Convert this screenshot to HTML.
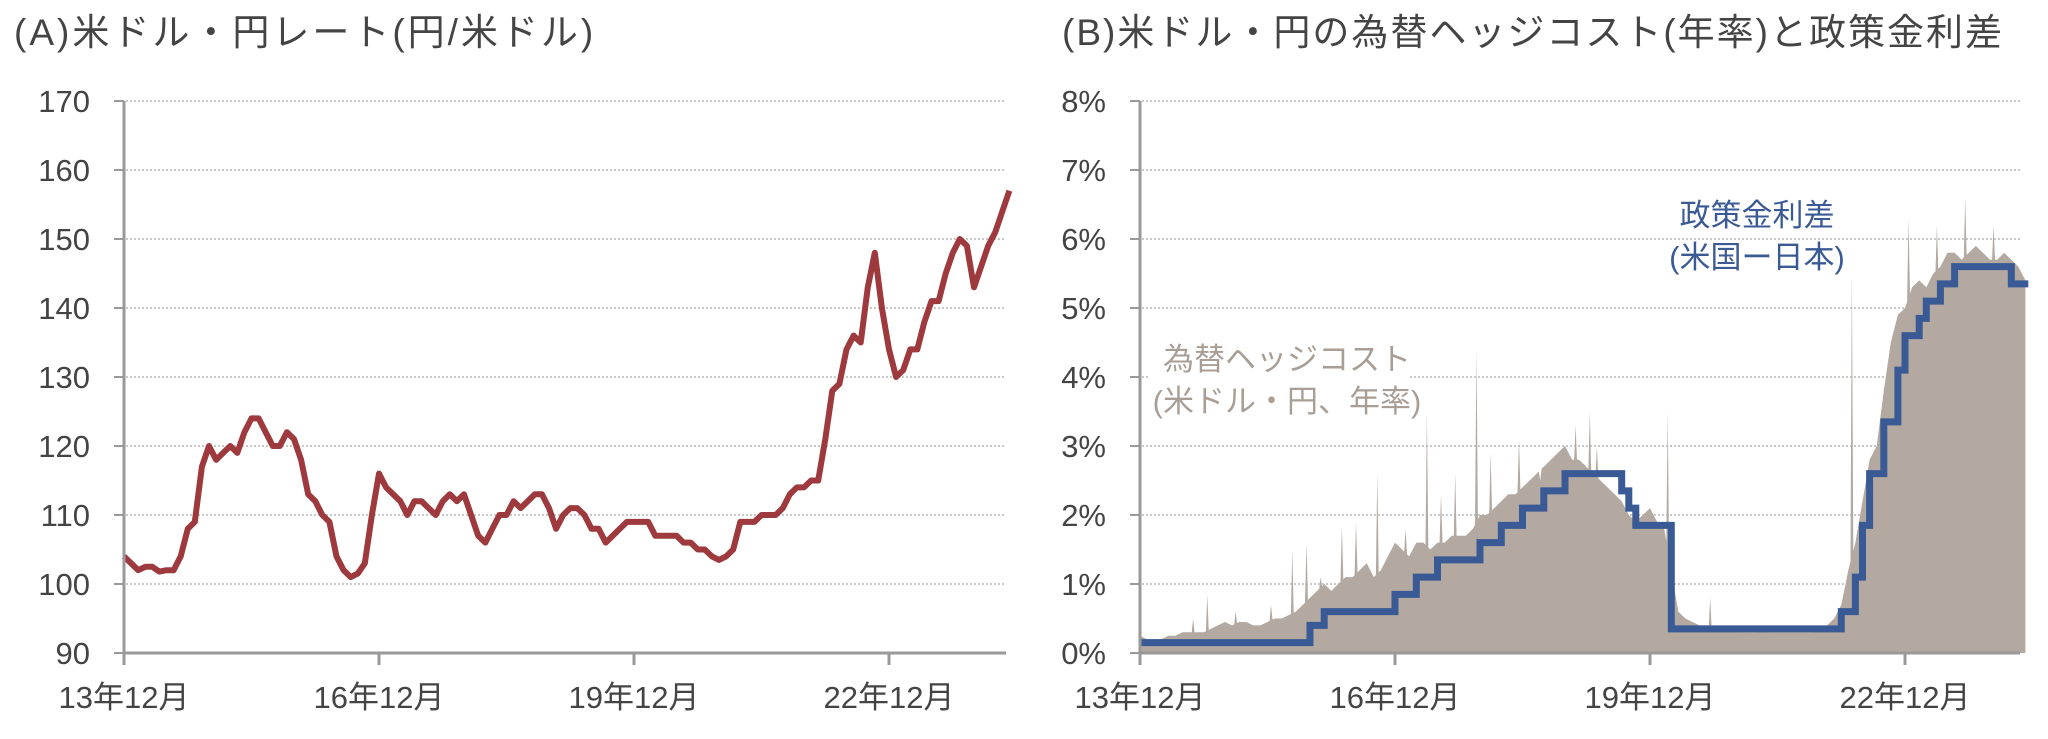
<!DOCTYPE html>
<html><head><meta charset="utf-8"><style>
body{margin:0;background:#fff;}
svg{display:block;font-family:"Liberation Sans","Noto Sans CJK JP",sans-serif;}
</style></head><body>
<svg id="c" width="2048" height="739" viewBox="0 0 2048 739">
<text x="14" y="45" font-size="37" letter-spacing="3" fill="#444">(A)米ドル・円レート(円/米ドル)</text>
<text x="1062" y="45" font-size="37" letter-spacing="2" fill="#444">(B)米ドル・円の為替ヘッジコスト(年率)と政策金利差</text>
<g id="L"></g>
<g id="R"></g>
</svg>
<script>
const NS="http://www.w3.org/2000/svg";
const xTickLabels=["13年12月","16年12月","19年12月","22年12月"];
const xTickMonths=[0,36,72,108];
const leftYTicks=[90,100,110,120,130,140,150,160,170];
const rightYTicks=[0,1,2,3,4,5,6,7,8];
const usdjpy=[104,
103,102,102.5,102.5,101.8,102,102,104,108,109,117,120,
118,119,120,119,122,124,124,122,120,120,122,121,
118,113,112,110,109,104,102,101,101.5,103,110,116,
114,113,112,110,112,112,111,110,112,113,112,113,
110,107,106,108,110,110,112,111,112,113,113,111,
108,110,111,111,110,108,108,106,107,108,109,109,
109,109,107,107,107,107,106,106,105,105,104,103.5,
104,105,109,109,109,110,110,110,111,113,114,114,
115,115,121,128,129,134,136,135,143,148,140,134,
130,131,134,134,138,141,141,145,148,150,149,143,
146,149,151,154,157];
const hedgeCost=[0.25,
0.2,0.2,0.2,0.25,0.25,0.3,0.3,0.3,0.3,0.35,0.4,0.45,
0.4,0.45,0.45,0.4,0.4,0.45,0.5,0.5,0.55,0.6,0.7,0.8,
0.9,1.0,0.9,1.0,1.1,1.1,1.2,1.3,1.1,1.2,1.4,1.6,
1.5,1.4,1.6,1.6,1.5,1.6,1.6,1.7,1.7,1.7,1.8,2.0,
2.0,2.1,2.2,2.3,2.3,2.4,2.5,2.6,2.7,2.8,2.9,3.0,
2.8,2.8,2.7,2.6,2.5,2.4,2.3,2.2,2.0,1.9,2.0,2.1,
1.9,1.8,1.2,0.6,0.5,0.45,0.4,0.4,0.35,0.35,0.35,0.35,
0.3,0.3,0.3,0.35,0.3,0.3,0.3,0.3,0.3,0.3,0.3,0.35,
0.4,0.5,0.7,1.2,1.6,2.2,2.8,3.0,3.8,4.5,4.9,5.0,
5.3,5.4,5.3,5.5,5.6,5.8,5.8,5.7,5.8,5.9,5.8,5.7,
5.7,5.8,5.7,5.6,5.4];
const spikeMonths=[7.5,9.5,13.5,18.5,21.5,23.5,25.5,28.5,30.5,33.5,37.5,40.5,42.5,44.5,47.5,49.5,53.5,56.5,61.5,63.5,64.5,74.5,80.5,100.5,108.5,112.5,116.5,120.5];
const spikeValues=[0.5,0.85,0.6,0.7,1.5,1.6,1.1,1.85,1.9,2.6,1.8,3.5,2.3,2.6,4.4,2.9,3.1,2.5,3.3,3.5,3.0,3.5,0.8,5.6,6.3,6.2,6.6,6.2];
const stepMonths=[0,24,26,36,39,42,48,51,54,57,60,68,69,70,75,99,101,102,103,105,107,108,110,111,113,115,123];
const stepValues=[0.15,0.4,0.6,0.85,1.1,1.35,1.6,1.85,2.1,2.35,2.6,2.35,2.1,1.85,0.35,0.6,1.1,1.85,2.6,3.35,4.1,4.6,4.85,5.1,5.35,5.6,5.35];
const lastMonth=125.4;

const TOP=101,BOT=653,PXM=255/36;
function mk(tag,attrs,parent,name,text){const e=document.createElementNS(NS,tag);for(const k in attrs)e.setAttribute(k,attrs[k]);


if(text!==undefined)e.textContent=text;parent.appendChild(e);return e;}
function axes(g,x0,x1,ticks,yFn,fmt,labelRight){
  ticks.forEach((t,i)=>{const y=yFn(t);
    if(i>0)mk('line',{x1:x0+2,x2:x1,y1:y,y2:y,stroke:'#c8c8c8','stroke-width':2,'stroke-dasharray':'2 2'},g,'gridline');
    mk('line',{x1:x0-10,x2:x0,y1:y,y2:y,stroke:'#999','stroke-width':2},g,'y-tick');
    mk('text',{x:labelRight,y:y+11,'text-anchor':'end','font-size':31,fill:'#444'},g,'y-tick-label',fmt(t));
  });
}
function xaxis(g,x0,x1,xFn){
  mk('line',{x1:x0,x2:x1,y1:BOT,y2:BOT,stroke:'#999','stroke-width':3},g,'x-axis');
  mk('line',{x1:x0,x2:x0,y1:TOP,y2:BOT+8,stroke:'#999','stroke-width':3},g,'y-axis');
  xTickMonths.forEach((m,i)=>{const x=xFn(m);
    mk('line',{x1:x,x2:x,y1:BOT,y2:BOT+12,stroke:'#999','stroke-width':3},g,'x-tick');
    mk('text',{x:x,y:708,'text-anchor':'middle','font-size':31,fill:'#444'},g,'x-tick-label',xTickLabels[i]);
  });
}
// Left chart
const L=document.getElementById('L');
const xL=m=>124+m*PXM, yL=v=>BOT-(v-90)*(BOT-TOP)/80;
axes(L,124,1006,leftYTicks,yL,t=>String(t),90);
const lp=usdjpy.map((v,i)=>xL(i).toFixed(1)+','+yL(v).toFixed(1)).join(' ');
mk('polyline',{points:lp,fill:'none',stroke:'#9e3a3e','stroke-width':6,'stroke-linejoin':'round'},L,'usdjpy-line');
xaxis(L,124,1006,xL);
// Right chart
const R=document.getElementById('R');
const xR=m=>1140+m*PXM, yR=v=>BOT-v*(BOT-TOP)/8;
axes(R,1140,2020,rightYTicks,yR,t=>t+'%',1106);
function baseAt(m){const i=Math.floor(m),f=m-i;const a=hedgeCost[Math.min(i,hedgeCost.length-1)],b=hedgeCost[Math.min(i+1,hedgeCost.length-1)];return a+(b-a)*f;}
let pts=hedgeCost.map((v,i)=>({m:i,v:v}));
spikeMonths.forEach((m,i)=>{pts.push({m:m-0.2,v:baseAt(m-0.2)});pts.push({m:m,v:spikeValues[i]});pts.push({m:m+0.2,v:baseAt(m+0.2)});});
pts.sort((a,b)=>a.m-b.m);
let ap=xR(0)+','+BOT+' '+pts.map(p=>xR(p.m).toFixed(1)+','+yR(p.v).toFixed(1)).join(' ')+' '+xR(hedgeCost.length-1).toFixed(1)+','+BOT;
mk('polygon',{points:ap,fill:'#b3a9a1'},R,'hedge-cost-area');
let sp=[];stepValues.forEach((v,i)=>{const m0=stepMonths[i],m1=i+1<stepMonths.length?stepMonths[i+1]:lastMonth;sp.push(xR(m0).toFixed(1)+','+yR(v).toFixed(1));sp.push(xR(m1).toFixed(1)+','+yR(v).toFixed(1));});
mk('polyline',{points:sp.join(' '),fill:'none',stroke:'#3a5a95','stroke-width':7,'stroke-linejoin':'miter'},R,'policy-rate-diff-line');
xaxis(R,1140,2020,xR);
mk('rect',{x:1148,y:335,width:262,height:85,fill:'#fff'},R,'hedge-label-bg');
mk('text',{x:1287,y:370,'text-anchor':'middle','font-size':31,fill:'#a89e96'},R,'hedge-cost-label','為替ヘッジコスト');
mk('text',{x:1287,y:412,'text-anchor':'middle','font-size':31,fill:'#a89e96'},R,'hedge-cost-sublabel','(米ドル・円、年率)');
mk('rect',{x:1640,y:240,width:240,height:40,fill:'#fff'},R,'policy-label-bg');
mk('text',{x:1757,y:226,'text-anchor':'middle','font-size':31,fill:'#3a5a95'},R,'policy-diff-label','政策金利差');
mk('text',{x:1757,y:268,'text-anchor':'middle','font-size':31,fill:'#3a5a95'},R,'policy-diff-sublabel','(米国ー日本)');
</script>
</body></html>
